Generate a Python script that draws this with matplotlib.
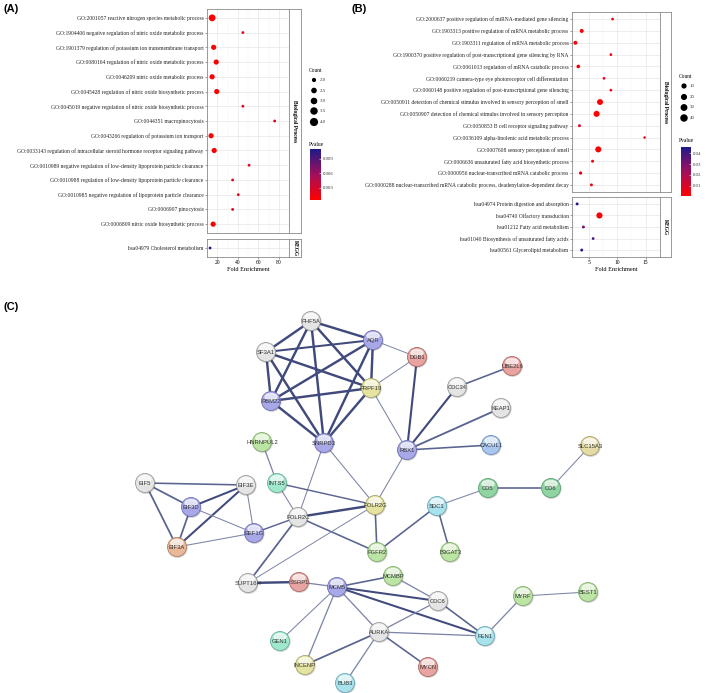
import numpy as np
import matplotlib
matplotlib.use("Agg")
import matplotlib.pyplot as plt
from matplotlib.colors import LinearSegmentedColormap, Normalize
from matplotlib.cm import ScalarMappable
from matplotlib.patches import Circle, Ellipse
from matplotlib.ticker import FormatStrFormatter

W, H = 709, 693

# ---------------- panel A data ----------------
a_bp_terms = [
    "GO:2001057 reactive nitrogen species metabolic process",
    "GO:1904406 negative regulation of nitric oxide metabolic process",
    "GO:1901379 regulation of potassium ion transmembrane transport",
    "GO:0080164 regulation of nitric oxide metabolic process",
    "GO:0046209 nitric oxide metabolic process",
    "GO:0045428 regulation of nitric oxide biosynthetic process",
    "GO:0045019 negative regulation of nitric oxide biosynthetic process",
    "GO:0044351 macropinocytosis",
    "GO:0043266 regulation of potassium ion transport",
    "GO:0033143 regulation of intracellular steroid hormone receptor signaling pathway",
    "GO:0010989 negative regulation of low-density lipoprotein particle clearance",
    "GO:0010988 regulation of low-density lipoprotein particle clearance",
    "GO:0010985 negative regulation of lipoprotein particle clearance",
    "GO:0006907 pinocytosis",
    "GO:0006809 nitric oxide biosynthetic process",
]
a_bp_fold = [15, 45, 16.5, 19, 15, 19.5, 45, 76, 14, 17, 51, 35, 40.5, 35, 16]
a_bp_count = [4, 2, 3, 3, 3, 3, 2, 2, 3, 3, 2, 2, 2, 2, 3]
a_bp_p = [0.0006, 0.002, 0.0008, 0.0007, 0.0006, 0.0007, 0.002, 0.002,
          0.0009, 0.0008, 0.002, 0.002, 0.002, 0.002, 0.0008]

a_kegg_terms = ["hsa04979 Cholesterol metabolism"]
a_kegg_fold = [13]
a_kegg_count = [2]
a_kegg_p = [0.0108]

a_count_legend = [2.0, 2.5, 3.0, 3.5, 4.0]
a_p_ticks = [0.003, 0.006, 0.009]

# ---------------- panel B data ----------------
b_bp_terms = [
    "GO:2000637 positive regulation of miRNA-mediated gene silencing",
    "GO:1903313 positive regulation of mRNA metabolic process",
    "GO:1903311 regulation of mRNA metabolic process",
    "GO:1900370 positive regulation of post-transcriptional gene silencing by RNA",
    "GO:0061013 regulation of mRNA catabolic process",
    "GO:0060219 camera-type eye photoreceptor cell differentiation",
    "GO:0060148 positive regulation of post-transcriptional gene silencing",
    "GO:0050911 detection of chemical stimulus involved in sensory perception of smell",
    "GO:0050907 detection of chemical stimulus involved in sensory perception",
    "GO:0050853 B cell receptor signaling pathway",
    "GO:0036109 alpha-linolenic acid metabolic process",
    "GO:0007608 sensory perception of smell",
    "GO:0006636 unsaturated fatty acid biosynthetic process",
    "GO:0000956 nuclear-transcribed mRNA catabolic process",
    "GO:0000288 nuclear-transcribed mRNA catabolic process, deadenylation-dependent decay",
]
b_bp_fold = [9.2, 3.8, 2.7, 8.9, 3.2, 7.7, 8.9, 7.0, 6.4, 3.4, 14.8, 6.7, 5.7, 3.6, 5.5]
b_bp_count = [3, 12, 12, 3, 9, 3, 3, 38, 40, 4, 2, 40, 4, 6, 4]
b_bp_p = [0.004, 0.002, 0.003, 0.004, 0.004, 0.005, 0.004, 0.001, 0.001,
          0.007, 0.006, 0.001, 0.005, 0.008, 0.006]

b_kegg_terms = [
    "hsa04974 Protein digestion and absorption",
    "hsa04740 Olfactory transduction",
    "hsa01212 Fatty acid metabolism",
    "hsa01040 Biosynthesis of unsaturated fatty acids",
    "hsa00561 Glycerolipid metabolism",
]
b_kegg_fold = [3.0, 6.9, 4.1, 5.8, 3.8]
b_kegg_count = [4, 42, 4, 3, 4]
b_kegg_p = [0.045, 0.002, 0.03, 0.04, 0.045]

b_count_legend = [10, 20, 30, 40]
b_p_ticks = [0.01, 0.02, 0.03, 0.04]

# ---------------- panel C network ----------------
node_names = ["PHF5A", "SF3A1", "AQR", "RBM22", "PRPF19", "SNRPD3", "DDB1", "UBE2L6",
              "CDC34", "KEAP1", "CACUL1", "RBX1", "HNRNPUL2", "INTS5", "EIF5", "EIF3E",
              "EIF3D", "EIF3A", "EEF1G", "POLR2C", "POLR2G", "SDC1", "CD5", "CD6",
              "SLC15A3", "FGFR2", "B3GAT3", "SUPT16H", "SSRP1", "MCM5", "MCMBP", "CDC6",
              "MYRF", "BEST1", "AURKA", "FEN1", "GEN1", "INCENP", "BUB3", "MYCN"]
node_x = [311, 266, 373, 271, 371, 324, 417, 512, 457, 501, 491, 407, 262, 277, 145, 246,
          191, 177, 254, 298, 375, 437, 488, 551, 590, 377, 450, 248, 299, 337, 393, 438,
          523, 588, 379, 485, 280, 305, 345, 428]
node_y = [321, 352, 340, 401, 388, 443, 357, 366, 387, 408, 445, 450, 442, 483, 483, 485,
          507, 547, 533, 517, 505, 506, 488, 488, 446, 552, 552, 583, 582, 587, 576, 601,
          596, 592, 632, 636, 641, 665, 683, 667]
node_group = ["grey", "grey", "lav", "lav", "yel", "lav", "pink", "pink", "grey", "grey",
              "blue", "lav", "lgreen", "mint", "grey", "grey", "lav", "peach", "lav", "grey",
              "yel", "cyan", "green", "green", "tan", "lgreen", "lgreen", "grey", "pink", "lav",
              "lgreen", "grey", "lgreen", "lgreen", "grey", "cyan", "mint", "yel", "cyan", "pink"]

edges = [
    ("PHF5A", "SF3A1", 3), ("PHF5A", "AQR", 3), ("PHF5A", "RBM22", 3), ("PHF5A", "SNRPD3", 3),
    ("PHF5A", "PRPF19", 3), ("SF3A1", "AQR", 2.5), ("SF3A1", "RBM22", 3), ("SF3A1", "SNRPD3", 3),
    ("SF3A1", "PRPF19", 3), ("AQR", "RBM22", 3), ("AQR", "PRPF19", 3), ("AQR", "SNRPD3", 3),
    ("RBM22", "PRPF19", 3), ("RBM22", "SNRPD3", 3), ("PRPF19", "SNRPD3", 3),
    ("AQR", "DDB1", 1.2), ("PRPF19", "DDB1", 1.2), ("PRPF19", "RBX1", 1.3), ("DDB1", "RBX1", 2.6),
    ("RBX1", "CDC34", 2.6), ("RBX1", "KEAP1", 2.3), ("RBX1", "CACUL1", 2), ("CDC34", "UBE2L6", 2),
    ("RBX1", "POLR2G", 1.3), ("SNRPD3", "POLR2G", 1.3), ("SNRPD3", "POLR2C", 1.3),
    ("HNRNPUL2", "INTS5", 1.6), ("INTS5", "POLR2C", 1.3), ("INTS5", "POLR2G", 1.8),
    ("POLR2C", "POLR2G", 3), ("POLR2C", "EEF1G", 1.8), ("POLR2C", "SUPT16H", 2.2),
    ("POLR2C", "FGFR2", 2), ("POLR2G", "FGFR2", 2), ("SUPT16H", "POLR2G", 1.2),
    ("FGFR2", "SDC1", 2), ("SDC1", "CD5", 1.3), ("SDC1", "B3GAT3", 2), ("CD5", "CD6", 2),
    ("CD6", "SLC15A3", 1.3),
    ("EIF5", "EIF3E", 2), ("EIF5", "EIF3D", 2.2), ("EIF5", "EIF3A", 2.2), ("EIF3E", "EIF3D", 2.5),
    ("EIF3E", "EIF3A", 2.5), ("EIF3E", "EEF1G", 1.3), ("EIF3D", "EIF3A", 2.2),
    ("EIF3D", "EEF1G", 1.3), ("EIF3A", "EEF1G", 1.3),
    ("SUPT16H", "SSRP1", 3), ("SSRP1", "MCM5", 1.6), ("MCM5", "MCMBP", 2), ("MCM5", "CDC6", 2.5),
    ("MCM5", "FEN1", 2.5), ("MCM5", "AURKA", 1.6), ("MCM5", "GEN1", 1.3), ("MCM5", "INCENP", 1.6),
    ("MCMBP", "CDC6", 1.6), ("CDC6", "AURKA", 1.6), ("CDC6", "FEN1", 2), ("AURKA", "FEN1", 1.6),
    ("AURKA", "INCENP", 2.2), ("AURKA", "BUB3", 1.6), ("AURKA", "MYCN", 2), ("FEN1", "MYRF", 1.6),
    ("MYRF", "BEST1", 1.3),
]

group_colors = {
    "grey": ("#e4e4e4", "#9c9c9c"), "lav": ("#a8a8e8", "#7272b4"),
    "pink": ("#e8a4a0", "#b06a66"), "peach": ("#e8b898", "#b0846a"),
    "yel": ("#e4e4a0", "#a8a86a"), "tan": ("#e4dca4", "#aaa070"),
    "lgreen": ("#bce4a4", "#84b070"), "green": ("#90d4a2", "#5ea474"),
    "mint": ("#a0e8cc", "#68b49a"), "cyan": ("#a8e2ec", "#6eaab6"),
    "blue": ("#a8c6ee", "#7092c0"),
}

SERIF = ["Liberation Serif", "DejaVu Serif"]
SANS = ["Liberation Sans", "DejaVu Sans"]

pcmap = LinearSegmentedColormap.from_list("pv", ["#ff0000", "#a0105c", "#1e1a8a"])


def box(x0, y0, x1, y1):
    # pixel box -> figure fraction
    return [x0 / W, 1 - y1 / H, (x1 - x0) / W, (y1 - y0) / H]


def px2pt(d):
    return (d * 72 / 100) ** 2


def dot_panel(fig, terms, fold, count, pv, rect, xlim, xticks, size_fn, norm, show_x):
    ax = fig.add_axes(box(*rect))
    n = len(terms)
    ys = np.arange(n)
    ax.set_xlim(*xlim)
    ax.set_ylim(n - 0.4, -0.6)
    ax.set_xticks(xticks)
    step = xticks[1] - xticks[0]
    minor = [xticks[0] - step / 2] + [t + step / 2 for t in xticks]
    ax.set_xticks(minor, minor=True)
    ax.grid(True, which="major", color="#e6e6e6", lw=0.5)
    ax.grid(True, which="minor", axis="x", color="#f2f2f2", lw=0.3)
    ax.set_axisbelow(True)
    ax.scatter(fold, ys, s=[px2pt(size_fn(c)) for c in count], c=pv, cmap=pcmap,
               norm=norm, edgecolors="none", zorder=3)
    ax.set_yticks(ys)
    ax.set_yticklabels(terms, fontsize=4, family=SERIF, color="#222222")
    ax.tick_params(axis="y", length=1.5, width=0.4, color="#555555", pad=1)
    ax.tick_params(axis="x", which="both", length=1.5, width=0.4, color="#555555", pad=1,
                   labelsize=4)
    ax.tick_params(axis="x", which="minor", length=0)
    for lab in ax.get_xticklabels():
        lab.set_family(SERIF)
    if not show_x:
        ax.set_xticklabels([])
        ax.tick_params(axis="x", length=0)
    for sp in ax.spines.values():
        sp.set_color("#8a8a8a")
        sp.set_linewidth(0.6)
    return ax


def strip(fig, rect, text):
    ax = fig.add_axes(box(*rect))
    ax.set_xticks([])
    ax.set_yticks([])
    for sp in ax.spines.values():
        sp.set_color("#8a8a8a")
        sp.set_linewidth(0.6)
    ax.text(0.5, 0.5, text, rotation=-90, ha="center", va="center", fontsize=4,
            fontweight="bold", family=SERIF, transform=ax.transAxes)


def size_legend(fig, title, vals, size_fn, x, y_title, ys, fmt):
    fig.text(x / W, 1 - y_title / H, title, fontsize=4, family=SERIF, va="center")
    for v, yy in zip(vals, ys):
        d = size_fn(v)
        fig.add_artist(Ellipse(((x + 5) / W, 1 - yy / H), d / W, d / H, color="black",
                               transform=fig.transFigure))
        fig.text((x + 11) / W, 1 - yy / H, fmt.format(v), fontsize=3.5, family=SERIF,
                 va="center", color="#333333")


def p_legend(fig, x_title, y_title, rect, norm, ticks, fmt):
    fig.text(x_title / W, 1 - y_title / H, "Pvalue", fontsize=4, family=SERIF, va="center")
    cax = fig.add_axes(box(*rect))
    cb = fig.colorbar(ScalarMappable(norm=norm, cmap=pcmap), cax=cax, ticks=ticks)
    cb.outline.set_visible(False)
    cax.yaxis.set_major_formatter(FormatStrFormatter(fmt))
    cax.tick_params(length=1.5, width=0.4, color="white", labelsize=3.5, pad=1.5,
                    direction="in")
    for lab in cax.get_yticklabels():
        lab.set_family(SERIF)
        lab.set_color("#333333")


def size_a(c):
    return np.sqrt(8 + (c - 2) / 2 * (46 - 8))


def size_b(c):
    return 1.5 + 0.72 * np.sqrt(c)


def draw_network(ax):
    pos = {n: (x, y) for n, x, y in zip(node_names, node_x, node_y)}
    for a, b, w in edges:
        (x0, y0), (x1, y1) = pos[a], pos[b]
        col = "#404a7c" if w >= 2.4 else ("#5a6490" if w >= 1.7 else "#7c84a8")
        ax.plot([x0, x1], [y0, y1], color=col, lw=w * 0.58, solid_capstyle="round", zorder=1)
    r = 9.5
    for n, x, y, g in zip(node_names, node_x, node_y, node_group):
        face, edge = group_colors[g]
        ax.add_patch(Circle((x + 0.6, y + 0.8), r, color="#00000022", zorder=2))
        ax.add_patch(Circle((x, y), r, facecolor=face, edgecolor=edge, lw=0.6, zorder=3))
        ax.add_patch(Ellipse((x, y - 4.2), 12, 6.5, color="white", alpha=0.65, zorder=4))
        ax.text(x, y + 0.3, n, ha="center", va="center", fontsize=4.2, family=SANS,
                color="#333333", zorder=5)


fig = plt.figure(figsize=(W / 100, H / 100), dpi=100)

# background axes in pixel coordinates for network and panel labels
bg = fig.add_axes([0, 0, 1, 1])
bg.set_xlim(0, W)
bg.set_ylim(H, 0)
bg.axis("off")
draw_network(bg)
for lab, x, y in [("(A)", 3, 9), ("(B)", 352, 9), ("(C)", 3, 307)]:
    bg.text(x, y, lab, fontsize=8, fontweight="bold", family=SANS, va="center", ha="left")

# panel A
norm_a = Normalize(0.0005, 0.011)
dot_panel(fig, a_bp_terms, a_bp_fold, a_bp_count, a_bp_p, (207, 9, 289, 233), (11, 81),
          [20, 40, 60, 80], size_a, norm_a, False)
strip(fig, (289, 9, 301, 233), "Biological Process")
axa = dot_panel(fig, a_kegg_terms, a_kegg_fold, a_kegg_count, a_kegg_p, (207, 239, 289, 257),
                (11, 81), [20, 40, 60, 80], size_a, norm_a, True)
strip(fig, (289, 239, 301, 257), "KEGG")
axa.set_xlabel("Fold Enrichment", fontsize=4.5, family=SERIF, labelpad=1)
size_legend(fig, "Count", a_count_legend, size_a, 309, 71, [80, 90.5, 101, 111, 122], "{:.1f}")
p_legend(fig, 309, 144, (310, 149, 321, 200), norm_a, a_p_ticks, "%.3f")

# panel B
norm_b = Normalize(0.0005, 0.046)
dot_panel(fig, b_bp_terms, b_bp_fold, b_bp_count, b_bp_p, (572, 12, 660, 192), (2.1, 15.6),
          [5, 10, 15], size_b, norm_b, False)
strip(fig, (660, 12, 671, 192), "Biological Process")
axb = dot_panel(fig, b_kegg_terms, b_kegg_fold, b_kegg_count, b_kegg_p, (572, 197, 660, 257),
                (2.1, 15.6), [5, 10, 15], size_b, norm_b, True)
strip(fig, (660, 197, 671, 257), "KEGG")
axb.set_xlabel("Fold Enrichment", fontsize=4.5, family=SERIF, labelpad=1)
size_legend(fig, "Count", b_count_legend, size_b, 679, 76, [86, 97, 107.5, 118], "{:d}")
p_legend(fig, 679, 141, (681, 147, 691, 196), norm_b, b_p_ticks, "%.2f")

fig.savefig("out.png", dpi=100)
